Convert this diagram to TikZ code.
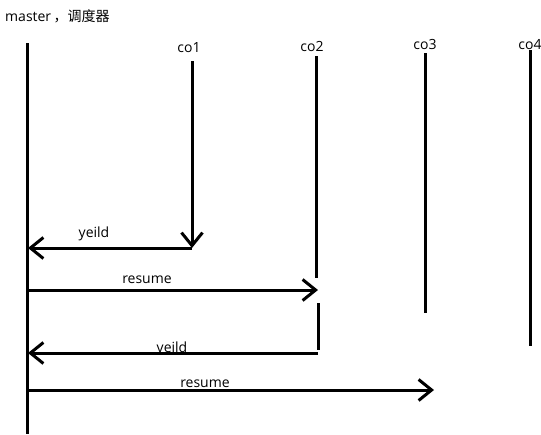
\documentclass[tikz,border=0pt]{standalone}
\usepackage{fontspec}
\setmainfont{Open Sans}
\newfontfamily\cjk{Noto Sans CJK SC}
\usetikzlibrary{arrows.meta}
\begin{document}
\begin{tikzpicture}[x=1pt,y=-1pt,
  lifeline/.style={line width=3pt},
  msg/.style={line width=3pt,-{Straight Barb[length=13pt,width=21pt]}},
  lbl/.style={inner sep=0pt,font=\fontsize{14}{16}\selectfont},
]
\useasboundingbox (0,0) rectangle (541,434);
% title
\node[lbl,anchor=west] (title) at (5,16) {master\,{\cjk ，调度器}};
% lifeline labels
\node[lbl] (l1) at (189,48) {co1};
\node[lbl] (l2) at (312,46) {co2};
\node[lbl] (l3) at (425,44) {co3};
\node[lbl] (l4) at (530,45) {co4};
% coordinates
\coordinate (mtop) at (27,43);
\coordinate (mbot) at (27,434);
\coordinate (c1top) at (192,61);
\coordinate (c1bot) at (192,248);
\coordinate (c2top) at (316,56);
\coordinate (c2bot) at (316,278);
\coordinate (c2btop) at (318,303);
\coordinate (c2bbot) at (318,350);
\coordinate (c3top) at (425,53);
\coordinate (c3bot) at (425,313);
\coordinate (c4top) at (530,50);
\coordinate (c4bot) at (530,346);
\coordinate (m1) at (28,248);
\coordinate (m2) at (28,290);
\coordinate (r1) at (318,290);
\coordinate (c2v) at (318,353);
\coordinate (m3) at (28,353);
\coordinate (m4) at (28,390);
\coordinate (r2) at (434,390);
% lifelines
\draw[lifeline] (mtop) -- (mbot);
\draw[msg] (c1top) -- (c1bot);
\draw[lifeline] (c2top) -- (c2bot);
\draw[lifeline] (c2btop) -- (c2bbot);
\draw[lifeline] (c3top) -- (c3bot);
\draw[lifeline] (c4top) -- (c4bot);
% messages
\draw[msg] (c1bot) -- (m1);
\draw[msg] (m2) -- (r1);
\draw[msg] (c2v) -- (m3);
\draw[msg] (m4) -- (r2);
% message labels
\node[lbl] (y1) at (94,234) {yeild};
\node[lbl] (rs1) at (147,280) {resume};
\node[lbl] (y2) at (172,347) {veild};
\node[lbl] (rs2) at (205,384) {resume};
\end{tikzpicture}
\end{document}
